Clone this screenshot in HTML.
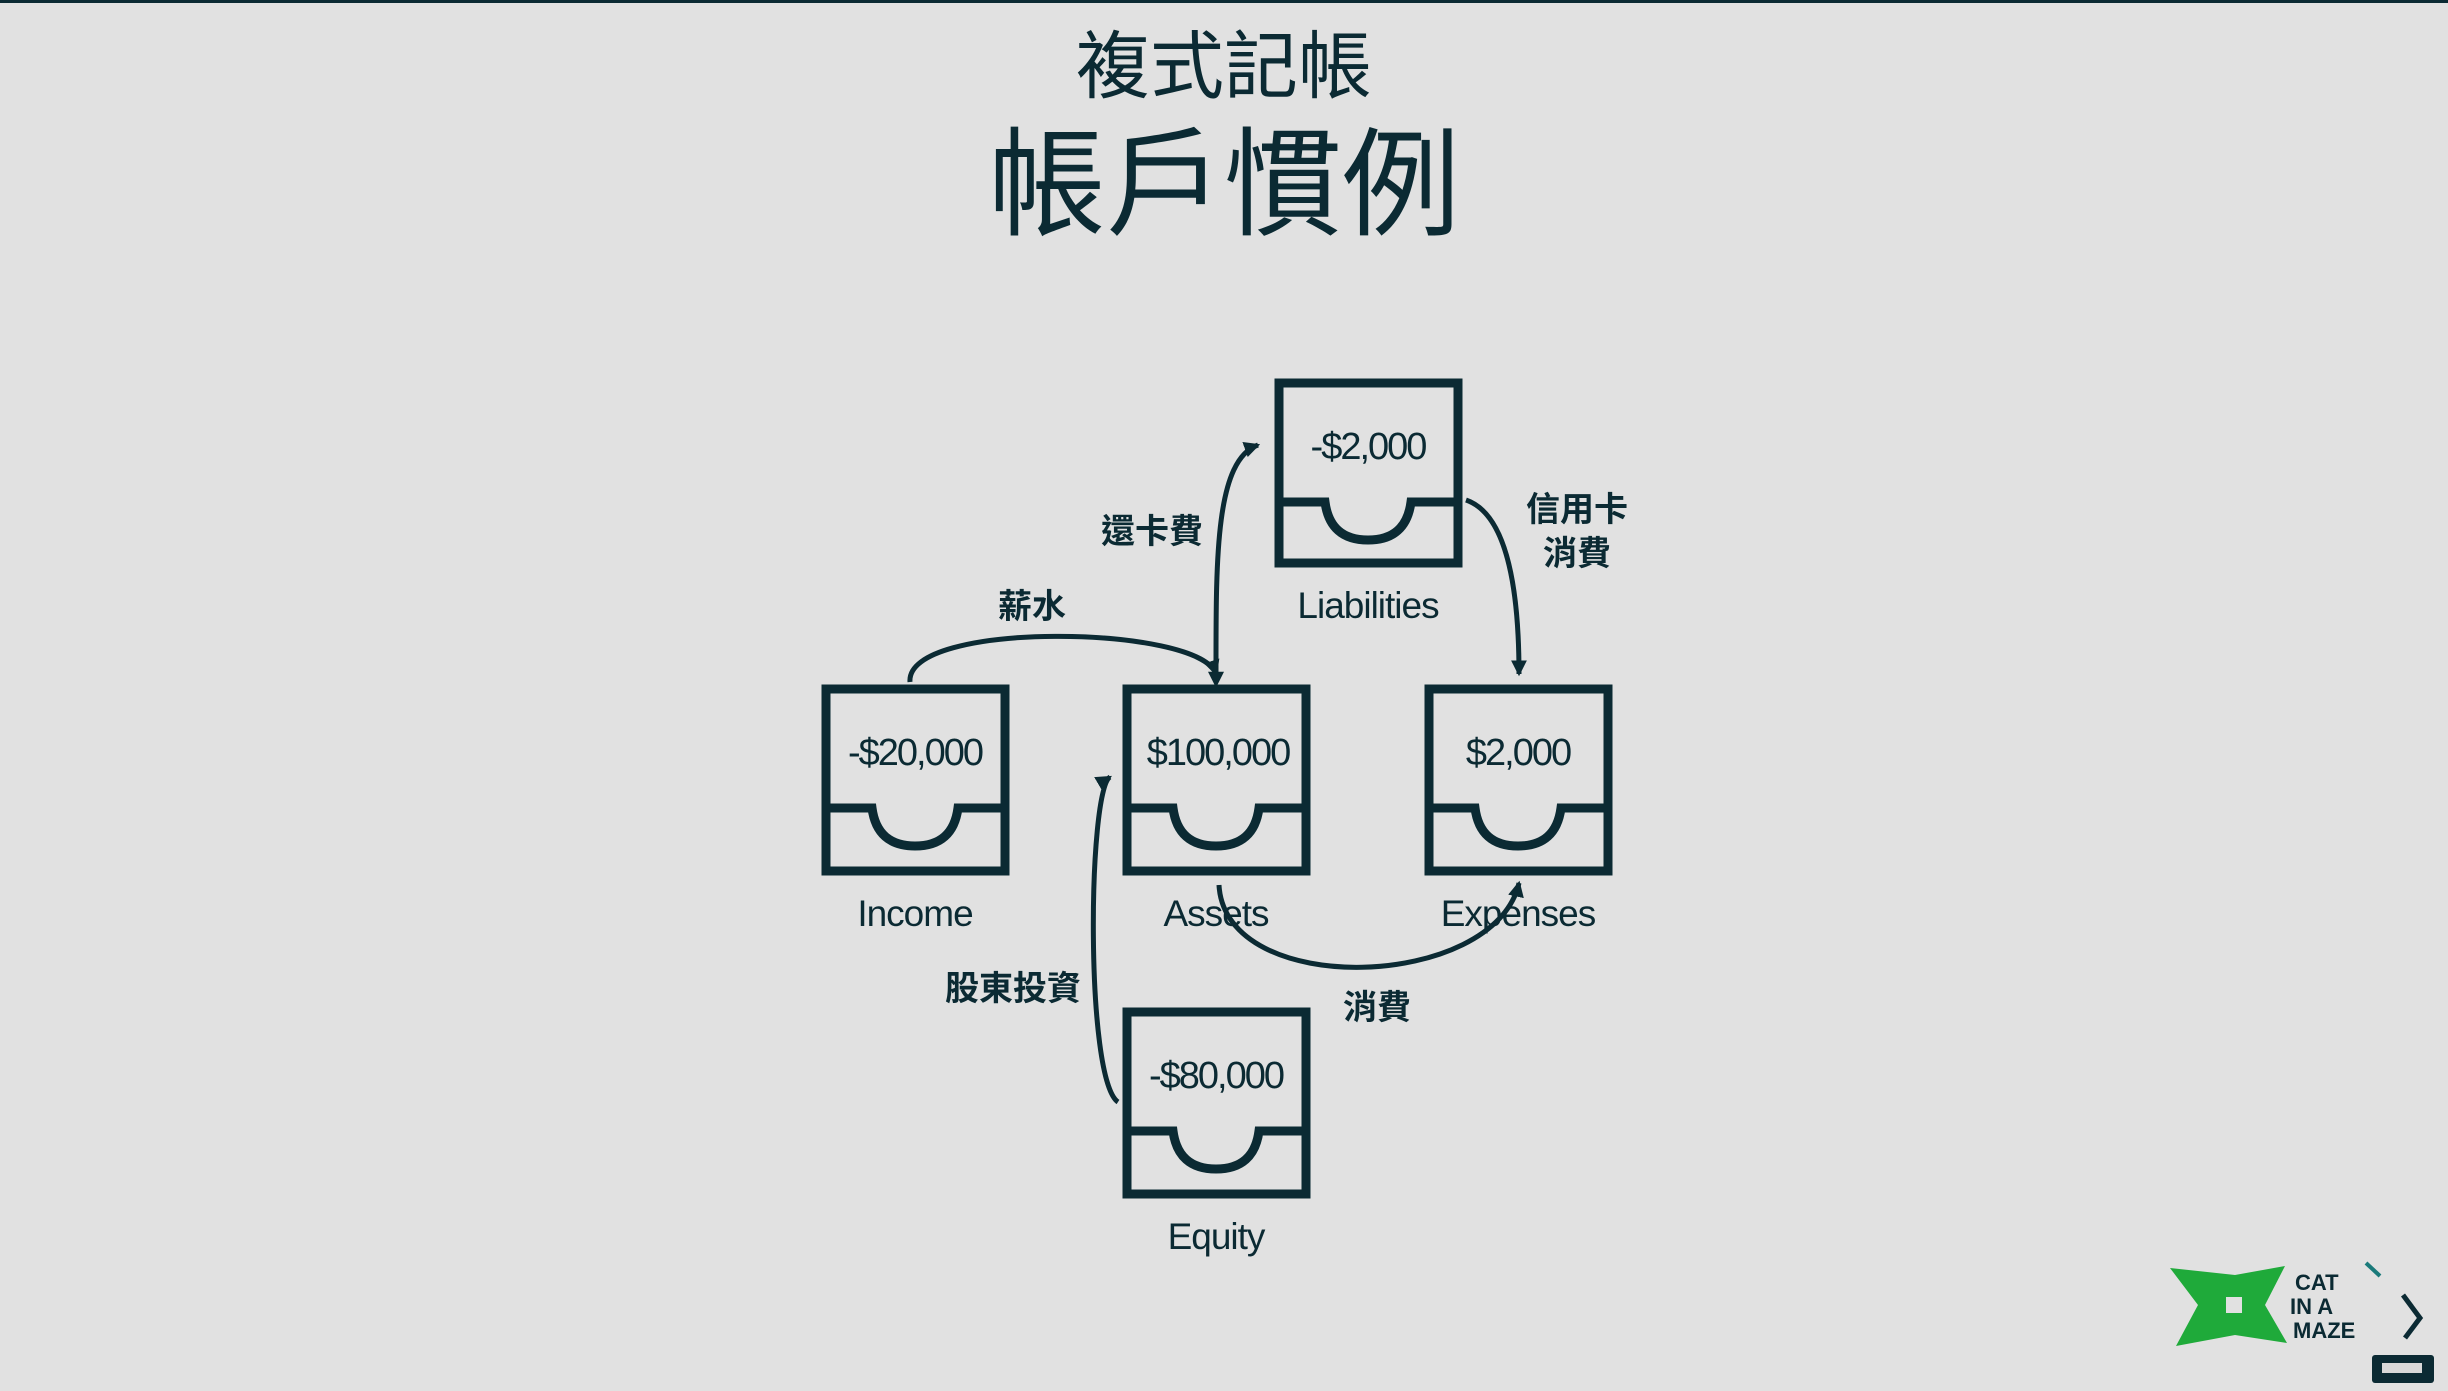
<!DOCTYPE html>
<html><head><meta charset="utf-8"><style>
html,body{margin:0;padding:0;background:#e1e1e1;}
svg{display:block;}
text{font-family:"Liberation Sans","Noto Sans CJK TC",sans-serif;fill:#0b2a33;}
</style></head><body>
<svg width="2448" height="1391" viewBox="0 0 2448 1391" xmlns="http://www.w3.org/2000/svg">
<defs>
<marker id="ah" markerWidth="16" markerHeight="16" refX="12" refY="7" orient="auto" markerUnits="userSpaceOnUse" viewBox="0 0 14 14">
<path d="M0,0 L14,7 L0,14 z" fill="#0b2a33"/></marker>
<marker id="ahs" markerWidth="16" markerHeight="16" refX="2" refY="7" orient="auto-start-reverse" markerUnits="userSpaceOnUse" viewBox="0 0 14 14">
<path d="M0,0 L14,7 L0,14 z" fill="#0b2a33"/></marker>
</defs>
<rect x="0" y="0" width="2448" height="3" fill="#0b2a33"/>
<text x="1224" y="92" font-size="74" text-anchor="middle">複式記帳</text>
<text x="1224" y="226" font-size="118" text-anchor="middle">帳戶慣例</text>

<g fill="none" stroke="#0b2a33" stroke-width="9">
<rect x="1279" y="383" width="179" height="180"/>
<path d="M1279 502 H1325 Q1330 540 1368 540 Q1406 540 1411 502 H1458"/>
<rect x="826" y="689" width="179" height="182"/>
<path d="M826 808 H872 Q877 846 915 846 Q953 846 958 808 H1005"/>
<rect x="1127" y="689" width="179" height="182"/>
<path d="M1127 808 H1173 Q1178 846 1216 846 Q1254 846 1259 808 H1306"/>
<rect x="1429" y="689" width="179" height="182"/>
<path d="M1429 808 H1475 Q1480 846 1518 846 Q1556 846 1561 808 H1608"/>
<rect x="1127" y="1012" width="179" height="182"/>
<path d="M1127 1131 H1173 Q1178 1169 1216 1169 Q1254 1169 1259 1131 H1306"/>
</g>
<g font-size="38" text-anchor="middle" letter-spacing="-2">
<text x="1368" y="459">-$2,000</text>
<text x="915" y="765">-$20,000</text>
<text x="1218" y="765">$100,000</text>
<text x="1518" y="765">$2,000</text>
<text x="1216" y="1088">-$80,000</text>
</g>
<g font-size="37" text-anchor="middle" letter-spacing="-1">
<text x="1368" y="618">Liabilities</text>
<text x="915" y="926">Income</text>
<text x="1216" y="926">Assets</text>
<text x="1518" y="926">Expenses</text>
<text x="1216" y="1249">Equity</text>
</g>
<g fill="none" stroke="#0b2a33" stroke-width="5">
<path d="M910 682 C 905 620, 1200 625, 1216 674" marker-end="url(#ah)"/>
<path d="M1216 674 C 1216 560, 1215 460, 1258 445" marker-end="url(#ah)" marker-start="url(#ahs)"/>
<path d="M1466 500 C 1510 515, 1519 600, 1519 674" marker-end="url(#ah)"/>
<path d="M1219 885 C 1225 1000, 1495 990, 1519 883" marker-end="url(#ah)"/>
<path d="M1118 1102 C 1085 1080, 1088 790, 1110 777" marker-end="url(#ah)"/>
</g>
<g font-size="34" font-weight="bold" text-anchor="middle">
<text x="1032" y="618">薪水</text>
<text x="1152" y="543">還卡費</text>
<text x="1577" y="521">信用卡</text>
<text x="1577" y="565">消費</text>
<text x="1377" y="1019">消費</text>
<text x="1013" y="1000">股東投資</text>
</g>
<path d="M2170 1268 L2235 1275 L2285 1266 L2265 1305 L2287 1343 L2235 1335 L2176 1346 L2198 1305 Z" fill="#1faa3a"/>
<rect x="2226" y="1297" width="16" height="16" fill="#e1e1e1"/>
<g font-size="22" font-weight="bold">
<text x="2295" y="1290">CAT</text>
<text x="2290" y="1314">IN A</text>
<text x="2293" y="1338">MAZE</text>
</g>
<path d="M2403 1295 L2420 1318 L2405 1338" fill="none" stroke="#0b2a33" stroke-width="5"/>
<path d="M2366 1263 L2380 1276" fill="none" stroke="#1a7a7a" stroke-width="4"/>
<rect x="2372" y="1355" width="62" height="28" rx="3" fill="#0b2a33"/>
<rect x="2382" y="1363" width="40" height="10" fill="#d8d8d8"/>
</svg>
</body></html>
